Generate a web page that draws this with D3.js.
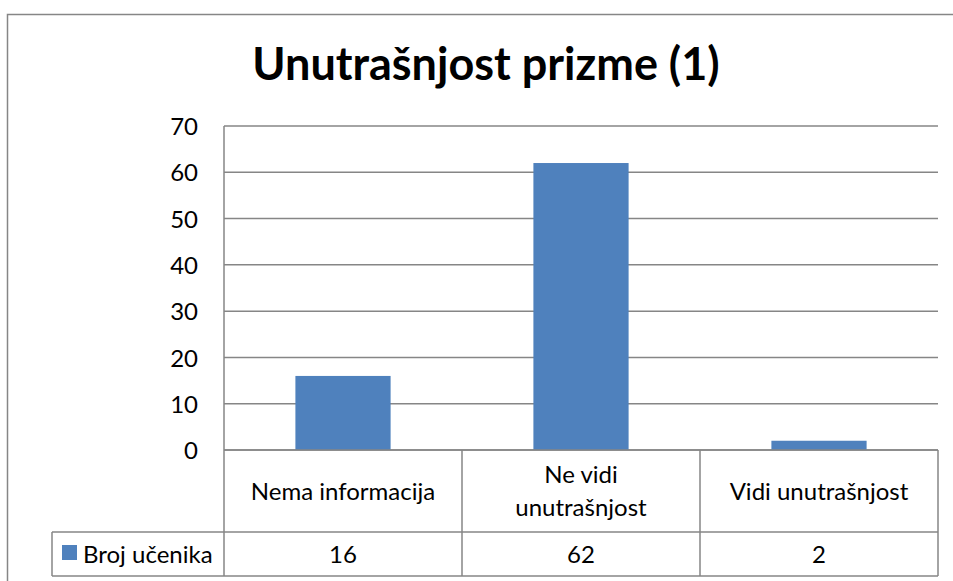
<!DOCTYPE html>
<html><head><meta charset="utf-8">
<script src="https://cdn.jsdelivr.net/npm/d3@7"></script>
<style>body{margin:0;background:#fff;}svg{display:block;}</style>
</head><body>
<script>
const title = "Unutrašnjost prizme (1)";
const categories = ["Nema informacija", "Ne vidi unutrašnjost", "Vidi unutrašnjost"];
const categoryLines = [["Nema informacija"], ["Ne vidi", "unutrašnjost"], ["Vidi unutrašnjost"]];
const seriesName = "Broj učenika";
const values = [16, 62, 2];
const yTicks = [0, 10, 20, 30, 40, 50, 60, 70];

const W = 953, H = 581;
const font = "Lato, 'Open Sans', sans-serif";
const fs = 24;
const svg = d3.select("body").append("svg").attr("width", W).attr("height", H);

svg.append("rect").attr("x", 7.5).attr("y", 14.5).attr("width", W + 10).attr("height", H + 10)
  .attr("fill", "#fff").attr("stroke", "#868686").attr("stroke-width", 1.5);

const plotL = 224, plotR = 938, plotT = 126, plotB = 450;
const x = d3.scaleBand().domain(categories).range([plotL, plotR]).padding(0);
const y = d3.scaleLinear().domain([0, 70]).range([plotB, plotT]);

// title
svg.append("text").attr("x", 486).attr("y", 80).attr("text-anchor", "middle")
  .attr("font-family", font).attr("font-weight", "bold").attr("font-size", 45).attr("fill", "#000")
  .text(title);

// gridlines
svg.append("g").selectAll("line").data(yTicks).join("line")
  .attr("x1", plotL).attr("x2", plotR).attr("y1", d => y(d)).attr("y2", d => y(d))
  .attr("stroke", "#868686").attr("stroke-width", 1.5);
svg.append("line").attr("x1", plotL).attr("x2", plotL).attr("y1", plotT).attr("y2", plotB)
  .attr("stroke", "#868686").attr("stroke-width", 1.5);

// y axis labels
const yAxis = d3.axisLeft(y).tickValues(yTicks).tickSize(0).tickPadding(0);
const gy = svg.append("g").attr("transform", `translate(198,0)`).call(yAxis);
gy.select(".domain").remove();
gy.selectAll("text").attr("font-family", font).attr("font-size", fs).attr("fill", "#000").attr("dy", "0.36em");

// bars
svg.append("g").selectAll("rect").data(values).join("rect")
  .attr("x", (d, i) => x(categories[i]) + x.bandwidth() * 0.3)
  .attr("width", x.bandwidth() * 0.4)
  .attr("y", d => y(d)).attr("height", d => y(0) - y(d))
  .attr("fill", "#4F81BD");

// data table
const row1B = 532, row2B = 576, legL = 52;
const tcol = "#868686";
const tg = svg.append("g").attr("stroke", tcol).attr("stroke-width", 1.5);
tg.append("line").attr("x1", plotL).attr("x2", plotR).attr("y1", plotB).attr("y2", plotB);
tg.append("line").attr("x1", legL).attr("x2", plotR).attr("y1", row1B).attr("y2", row1B);
tg.append("line").attr("x1", legL).attr("x2", plotR).attr("y1", row2B).attr("y2", row2B);
tg.append("line").attr("x1", legL).attr("x2", legL).attr("y1", row1B).attr("y2", row2B);
const bounds = categories.map(c => x(c)).concat([plotR]);
tg.selectAll("line.v").data(bounds).join("line").attr("class", "v")
  .attr("x1", d => d).attr("x2", d => d).attr("y1", plotB).attr("y2", row2B);

// category labels
categories.forEach((c, i) => {
  const lines = categoryLines[i];
  const cx = x(c) + x.bandwidth() / 2;
  const cy = (plotB + row1B) / 2;
  const lh = 33;
  lines.forEach((l, j) => {
    svg.append("text").attr("x", cx).attr("y", cy + (j - (lines.length - 1) / 2) * lh)
      .attr("dy", "0.36em").attr("text-anchor", "middle")
      .attr("font-family", font).attr("font-size", fs).attr("fill", "#000").text(l);
  });
  svg.append("text").attr("x", cx).attr("y", (row1B + row2B) / 2).attr("dy", "0.36em")
    .attr("text-anchor", "middle").attr("font-family", font).attr("font-size", fs).attr("fill", "#000")
    .text(values[i]);
});

// legend
svg.append("rect").attr("x", 62).attr("y", 545).attr("width", 15).attr("height", 15).attr("fill", "#4F81BD");
svg.append("text").attr("x", 83).attr("y", (row1B + row2B) / 2).attr("dy", "0.36em")
  .attr("font-family", font).attr("font-size", fs).attr("fill", "#000").text(seriesName);
</script>
</body></html>
